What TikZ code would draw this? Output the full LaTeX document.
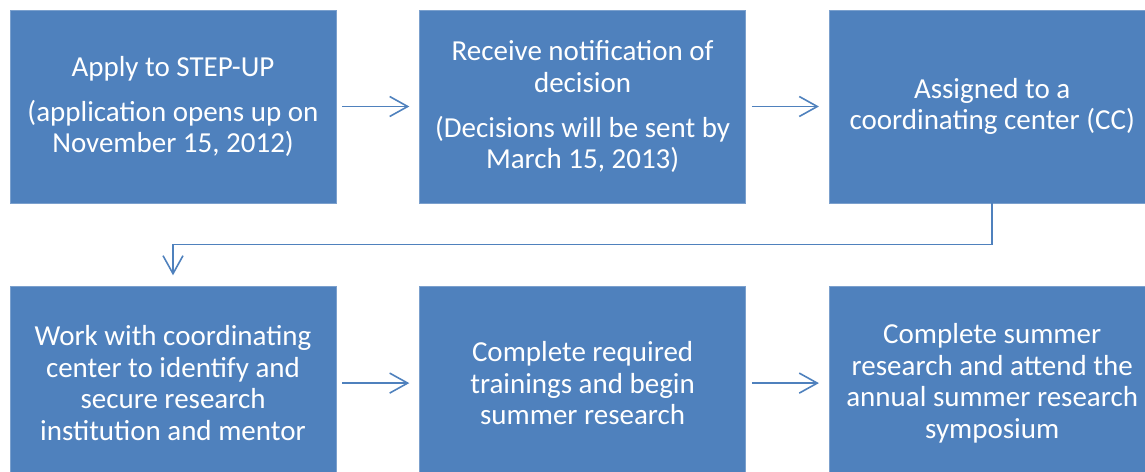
\documentclass[tikz,border=0pt]{standalone}
\usepackage{fontspec}
\setmainfont{Carlito}
\usetikzlibrary{positioning,arrows.meta}
\definecolor{stageblue}{HTML}{4F81BD}

\begin{document}
\begin{tikzpicture}[x=1pt,y=1pt,
  stagebox/.style={rectangle,fill=stageblue,draw=stageblue!75!white,line width=0.6pt,
    minimum width=326pt,minimum height=193pt,inner sep=0pt,align=center,text=white,
    font=\fontsize{29}{31.5}\selectfont},
  flow/.style={draw=stageblue,line width=1.6pt,-{Straight Barb[length=18pt,width=20pt,line width=1.6pt]}}]
\useasboundingbox (0,0) rectangle (1145,-471);
% top row
\node [stagebox] (apply) at (173,-106.5) {Apply to STEP-UP\\[13.5pt] (application opens up on\\ November 15, 2012)};
\node [stagebox,right=83pt of apply] (notify) {Receive notification of\\ decision\\[13.5pt] (Decisions will be sent by\\ March 15, 2013)};
\node [stagebox,right=83pt of notify] (assign) {Assigned to a\\ coordinating center (CC)};
% bottom row
\node [stagebox,below=83pt of apply] (secure) {Work with coordinating\\ center to identify and\\ secure research\\ institution and mentor};
\node [stagebox,right=83pt of secure] (train) {Complete required\\ trainings and begin\\ summer research};
\node [stagebox,right=83pt of train] (finish) {Complete summer\\ research and attend the\\ annual summer research\\ symposium};
% connectors
\draw [flow,shorten <=6pt,shorten >=10pt] (apply) -- (notify);
\draw [flow,shorten <=6pt,shorten >=10pt] (notify) -- (assign);
\draw [flow,shorten >=11pt] (assign.south) -- ++(0,-41) -| (secure.north);
\draw [flow,shorten <=6pt,shorten >=10pt] (secure) -- (train);
\draw [flow,shorten <=6pt,shorten >=10pt] (train) -- (finish);
\end{tikzpicture}
\end{document}
